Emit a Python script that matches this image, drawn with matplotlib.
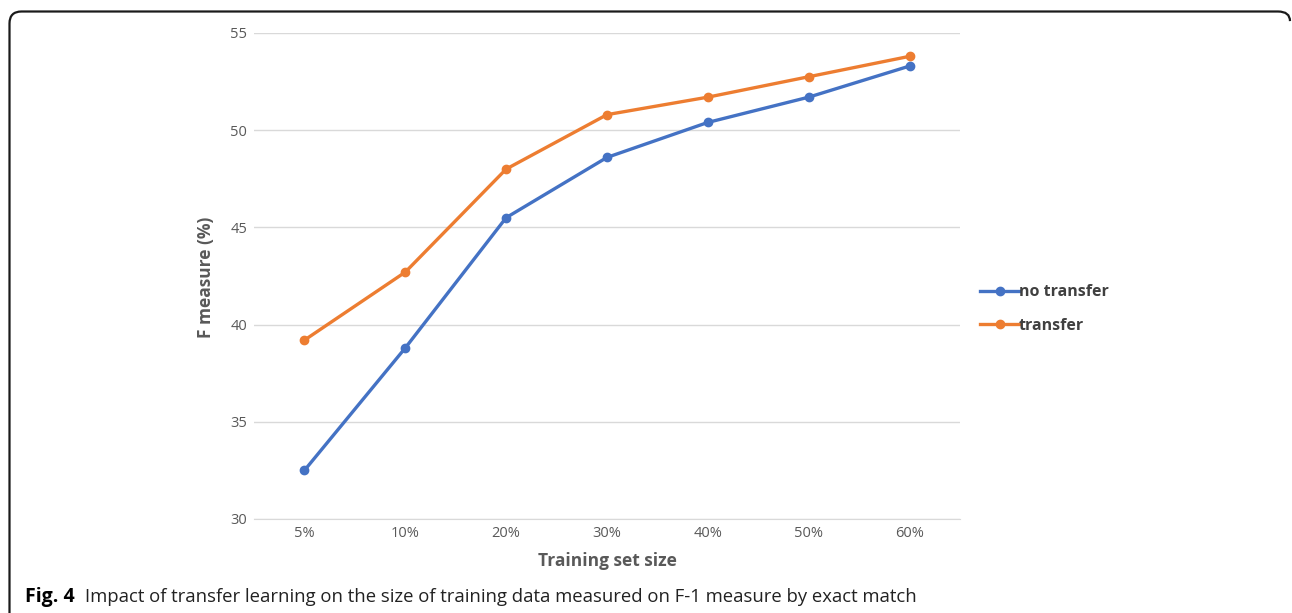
import matplotlib
matplotlib.use("Agg")
import matplotlib.pyplot as plt
from matplotlib.path import Path
from matplotlib.patches import PathPatch
from matplotlib.lines import Line2D

categories = ["5%", "10%", "20%", "30%", "40%", "50%", "60%"]
no_transfer = [32.5, 38.8, 45.5, 48.6, 50.4, 51.7, 53.3]
transfer = [39.2, 42.7, 48.0, 50.8, 51.7, 52.75, 53.8]
yticks = [30, 35, 40, 45, 50, 55]

plt.rcParams['font.family'] = ['Open Sans', 'DejaVu Sans']

W, H = 1292, 613
fig = plt.figure(figsize=(W / 100, H / 100), dpi=100)
ax = fig.add_axes([254 / W, 1 - 519 / H, (960 - 254) / W, (519 - 33) / H])

blue = "#4472C4"
orange = "#ED7D31"
x = list(range(len(categories)))
ax.plot(x, no_transfer, color=blue, lw=2.4, marker="o", ms=6, label="no transfer", zorder=3)
ax.plot(x, transfer, color=orange, lw=2.4, marker="o", ms=6, label="transfer", zorder=3)

ax.set_xlim(-0.5, len(categories) - 0.5)
ax.set_ylim(30, 55)
ax.set_yticks(yticks)
ax.set_xticks(x)
ax.set_xticklabels(categories)
ax.yaxis.grid(True, color="#D9D9D9", lw=1)
ax.set_axisbelow(True)
for s in ["top", "right", "left"]:
    ax.spines[s].set_visible(False)
ax.spines["bottom"].set_color("#D9D9D9")
ax.tick_params(axis="both", length=0, labelsize=10.5, colors="#595959")
ax.tick_params(axis="x", pad=5)
ax.tick_params(axis="y", pad=5)

fig.text(607 / W, 1 - 561 / H, "Training set size", fontsize=12.5, fontweight="bold",
         color="#595959", ha="center", va="center")
fig.text(206 / W, 1 - 277 / H, "F measure (%)", fontsize=12.5, fontweight="bold",
         color="#595959", ha="center", va="center", rotation=90)

handles = [Line2D([], [], color=blue, lw=2.4, marker="o", ms=6),
           Line2D([], [], color=orange, lw=2.4, marker="o", ms=6)]
leg = fig.legend(handles, ["no transfer", "transfer"], loc="center left",
                 bbox_to_anchor=(966 / W, 1 - 309 / H), frameon=False,
                 handlelength=2.4, handletextpad=0.0, labelspacing=1.1,
                 prop={"size": 11.5, "weight": "bold"})
for t in leg.get_texts():
    t.set_color("#404040")

# caption
fig.text(25 / W, 1 - 597 / H, "Fig. 4", fontsize=14, fontweight="bold", va="center", ha="left")
fig.text(85 / W, 1 - 597 / H, "Impact of transfer learning on the size of training data measured on F-1 measure by exact match",
         fontsize=13.3, va="center", ha="left", color="#222222")

# frame (top and left edges with rounded corners)
r = 12
x0, y0 = 9.5, H - 11.5
x1 = W - 2
verts = [(x0, 0), (x0, y0 - r), (x0, y0), (x0 + r, y0), (x1 - r, y0), (x1, y0), (x1, y0 - r * 0.8)]
codes = [Path.MOVETO, Path.LINETO, Path.CURVE3, Path.CURVE3, Path.LINETO, Path.CURVE3, Path.CURVE3]
verts = [(vx / W, vy / H) for vx, vy in verts]
patch = PathPatch(Path(verts, codes), transform=fig.transFigure, fill=False, lw=1.6, color="#1a1a1a")
fig.add_artist(patch)

fig.savefig("out.png", dpi=100)
